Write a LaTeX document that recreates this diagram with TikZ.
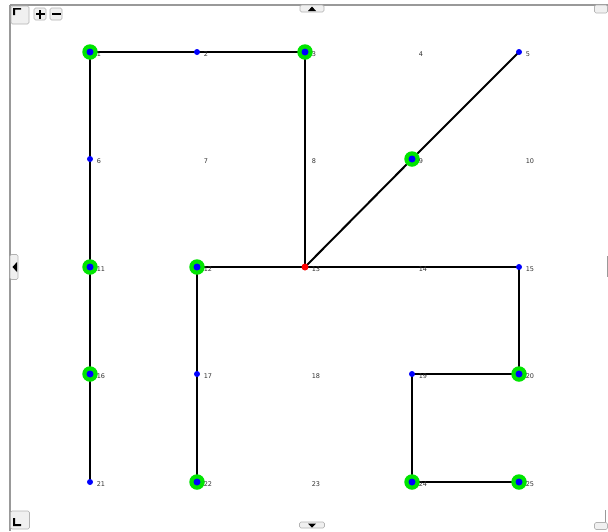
\documentclass[tikz,border=0pt]{standalone}
\usepackage{tikz}
\usepackage{fontspec}
\newfontfamily\labelfont{DejaVu Sans}
\usetikzlibrary{arrows,positioning}

\begin{document}
\begin{tikzpicture}[x=1pt,y=-1pt,semithick]
  \tikzstyle{vertex}=[circle,fill=blue,inner sep=0pt,minimum size=7pt]
  \tikzstyle{small vertex}=[circle,fill=blue,inner sep=0pt,minimum size=6pt]
  \tikzstyle{marked}=[circle,fill=green!90!black,inner sep=0pt,minimum size=15.5pt]
  \tikzstyle{root}=[circle,fill=red,inner sep=0pt,minimum size=7pt]
  \tikzstyle{tag}=[font=\labelfont\fontsize{6.5}{7}\selectfont,text=black!80,anchor=west,inner sep=0pt]
  \tikzstyle{wire}=[line width=2pt,black]
  \tikzstyle{frame}=[draw=black!40,line width=1.6pt]
  \tikzstyle{tab}=[draw=black!30,fill=black!6,rounded corners=1.5pt,line width=0.6pt]

  \useasboundingbox (0,0) rectangle (608,531);

  % window frame and its little buttons
  \draw[frame] (10,5) -- (608,5);
  \draw[frame] (10,5) -- (10,531);
  \draw[draw=black!40,line width=0.8pt] (607,256) -- (607,277);
  \draw[draw=black!40,line width=0.8pt] (605,510) -- (605,522);
  \node[tab,minimum width=18pt,minimum height=18pt,inner sep=0pt] (cornertl) at (20,15) {};
  \fill (13,8) -- (21,8) -- (21,9.5) -- (15,9.5) -- (15,15) -- (13,15) -- cycle;
  \node[tab,minimum width=12pt,minimum height=12pt,inner sep=0pt] (zoomin) at (40,14) {};
  \fill (35.5,12.8) rectangle (44.5,15.2);
  \fill (38.8,9.5) rectangle (41.2,18.5);
  \node[tab,minimum width=12pt,minimum height=12pt,inner sep=0pt] (zoomout) at (56,14) {};
  \fill (51.5,12.8) rectangle (60.5,15.2);
  \node[tab,minimum width=24pt,minimum height=7pt,inner sep=0pt] (panup) at (312,8.5) {};
  \fill (312,6.5) -- (316,11) -- (308,11) -- cycle;
  \node[tab,minimum width=8pt,minimum height=25pt,inner sep=0pt] (panleft) at (14,267) {};
  \fill (12.5,267) -- (17,262) -- (17,272) -- cycle;
  \node[tab,minimum width=19pt,minimum height=18pt,inner sep=0pt] (cornerbl) at (20,520) {};
  \fill (13,518) -- (15,518) -- (15,524) -- (21,524) -- (21,526) -- (13,526) -- cycle;
  \node[tab,minimum width=25pt,minimum height=6pt,inner sep=0pt] (pandown) at (312,525) {};
  \fill (308,523.5) -- (316,523.5) -- (312,527.5) -- cycle;
  \node[tab,minimum width=13pt,minimum height=8pt,inner sep=0pt] (cornertr) at (601,9) {};
  \node[tab,minimum width=13pt,minimum height=7pt,inner sep=0pt] (cornerbr) at (601,526) {};

  % grid points, numbered row by row
  \foreach \y [count=\r from 0] in {52,159,267,374,482}
    \foreach \x [count=\c] in {90,197,305,412,519}
      {\pgfmathtruncatemacro{\k}{5*\r+\c}
       \coordinate (p\k) at (\x,\y);}

  % tree edges
  \draw[wire] (p1) -- (p2) -- (p3) -- (p13);
  \draw[wire] (p13) -- (p9) -- (p5);
  \draw[wire] (p1) -- (p6) -- (p11) -- (p16) -- (p21);
  \draw[wire] (p12) -- (p13) -- (p14) -- (p15) -- (p20) -- (p19) -- (p24) -- (p25);
  \draw[wire] (p12) -- (p17) -- (p22);

  % highlighted points
  \foreach \k in {1,3,9,11,12,16,20,22,24,25}
    \node[marked] (m\k) at (p\k) {};
  \foreach \k in {1,3,9,11,12,16,20,22,24,25}
    \node[vertex] (v\k) at (p\k) {};
  \foreach \k in {2,5,6,15,17,19,21}
    \node[small vertex] (v\k) at (p\k) {};
  \node[root] (v13) at (p13) {};

  % point numbers
  \foreach \k in {1,...,25}
    \node[tag] (t\k) at ([xshift=6.5pt,yshift=-2.5pt]p\k) {\k};
\end{tikzpicture}
\end{document}
